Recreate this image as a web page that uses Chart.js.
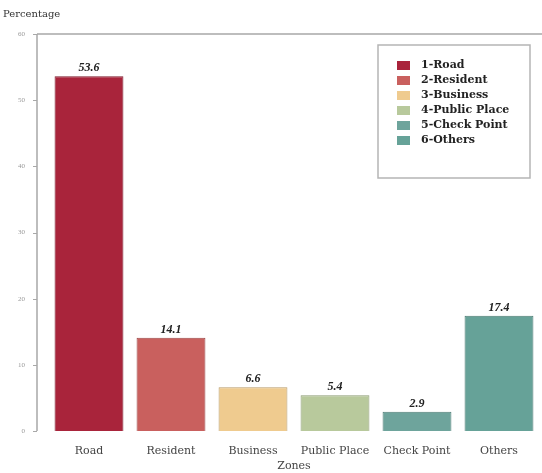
<!DOCTYPE html>
<html>
<head>
<meta charset="utf-8">
<script src="https://cdn.jsdelivr.net/npm/chart.js@4.4.0/dist/chart.umd.min.js"></script>
<style>
  html, body { margin: 0; padding: 0; background: #fff; }
  #wrap { width: 542px; height: 473px; }
</style>
</head>
<body>
<div id="wrap"><canvas id="myChart" width="542" height="473"></canvas></div>
<script>
// zones and share of cases (%)
const zones = ["Road", "Resident", "Business", "Public Place", "Check Point", "Others"];
const legendNames = ["1-Road", "2-Resident", "3-Business", "4-Public Place", "5-Check Point", "6-Others"];
const percentages = [53.6, 14.1, 6.6, 5.4, 2.9, 17.4];
const yTicks = [0, 10, 20, 30, 40, 50, 60];

const fills = ["#a9243b", "#c9605e", "#efcb8f", "#b8c99c", "#6ea49c", "#66a298"];
const edges = ["#7d1a2b", "#9a4645", "#b89a68", "#8c9c74", "#4f7d76", "#4b7a72"];

const serif = "'Liberation Serif', 'DejaVu Serif', serif";
const wide = "'DejaVu Serif', serif";

// axis line, top rule, value labels, y title and boxed legend
const extras = {
  id: "extras",
  afterDraw(chart) {
    const { ctx, chartArea, scales } = chart;
    const axisX = 37;
    ctx.save();
    ctx.strokeStyle = "#a8a8a8";
    ctx.lineWidth = 1.5;
    ctx.beginPath();
    ctx.moveTo(axisX, chartArea.top);
    ctx.lineTo(axisX, chartArea.bottom);
    ctx.moveTo(axisX, chartArea.top);
    ctx.lineTo(chart.width, chartArea.top);
    ctx.stroke();
    ctx.lineWidth = 1;
    yTicks.forEach((v) => {
      const py = Math.round(scales.y.getPixelForValue(v)) + 0.5;
      ctx.beginPath();
      ctx.moveTo(axisX - 4, py);
      ctx.lineTo(axisX, py);
      ctx.stroke();
    });

    ctx.fillStyle = "#333";
    ctx.font = "10px " + wide;
    ctx.textAlign = "left";
    ctx.textBaseline = "middle";
    ctx.fillText("Percentage", 3, 14);

    const meta = chart.getDatasetMeta(0);
    ctx.font = "italic bold 12px " + serif;
    ctx.fillStyle = "#222";
    ctx.textAlign = "center";
    ctx.textBaseline = "bottom";
    meta.data.forEach((bar, i) => {
      ctx.fillText(percentages[i].toFixed(1), bar.x, bar.y - 2);
    });

    // legend box
    const lx = 378, ly = 45, lw = 152, lh = 133;
    ctx.fillStyle = "#fff";
    ctx.fillRect(lx, ly, lw, lh);
    ctx.strokeStyle = "#b5b5b5";
    ctx.lineWidth = 1.5;
    ctx.strokeRect(lx, ly, lw, lh);
    ctx.font = "bold 11px " + wide;
    ctx.textAlign = "left";
    ctx.textBaseline = "middle";
    legendNames.forEach((name, i) => {
      const ry = 65 + i * 15;
      ctx.fillStyle = fills[i];
      ctx.fillRect(397, ry - 4, 13, 9);
      ctx.fillStyle = "#222";
      ctx.fillText(name, 421, ry);
    });
    ctx.restore();
  },
};

const ctx = document.getElementById("myChart").getContext("2d");
const myChart = new Chart(ctx, {
  type: "bar",
  data: {
    labels: zones,
    datasets: [
      {
        label: "Percentage",
        data: percentages,
        backgroundColor: fills,
        borderColor: edges,
        borderWidth: 1,
        barPercentage: 0.84,
        categoryPercentage: 1,
      },
    ],
  },
  options: {
    responsive: false,
    animation: false,
    layout: { padding: { top: 34, right: 2, left: 0, bottom: 0 } },
    plugins: {
      legend: { display: false },
      tooltip: { enabled: false },
    },
    scales: {
      x: {
        grid: { display: false },
        border: { display: false },
        ticks: {
          color: "#444",
          font: { family: wide, size: 11 },
          padding: 6,
          maxRotation: 0,
          autoSkip: false,
        },
        title: {
          display: true,
          text: "Zones",
          color: "#444",
          font: { family: wide, size: 11 },
          padding: { top: 0, bottom: 0 },
        },
        afterFit: (scale) => { scale.height = 42; },
      },
      y: {
        min: 0,
        max: 60,
        grid: { display: false },
        border: { display: false },
        afterBuildTicks: (scale) => {
          scale.ticks = yTicks.map((v) => ({ value: v }));
        },
        ticks: {
          color: "#999",
          font: { family: serif, size: 7 },
          padding: 15,
        },
        afterFit: (scale) => { scale.width = 48; },
      },
    },
  },
  plugins: [extras],
});
</script>
</body>
</html>
